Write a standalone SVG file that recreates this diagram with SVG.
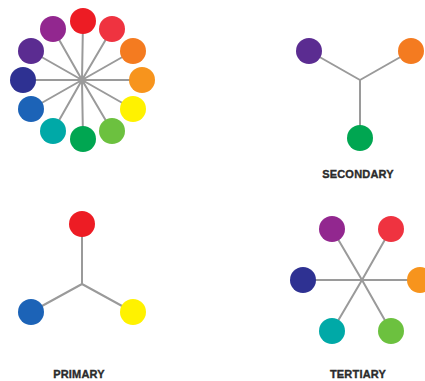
<svg xmlns="http://www.w3.org/2000/svg" width="425" height="381" viewBox="0 0 425 381">
<style>
.ln{stroke:#9a9a9a;stroke-width:2;fill:none;stroke-linecap:round}
.lbl{font-family:"Liberation Sans",Arial,sans-serif;font-weight:bold;font-size:11px;fill:#2b2b2b;stroke:#2b2b2b;stroke-width:0.35;letter-spacing:0.2px;text-anchor:middle}
</style>
<rect width="425" height="381" fill="#fff"/>
<g id="connectors">
  <path class="ln" d="M82,80L83,21M82,80L112,29M82,80L133,51M82,80L142,80M82,80L133,109M82,80L112,131M82,80L83,139M82,80L53,131M82,80L31,109M82,80L23,80M82,80L31,51M82,80L53,29"/>
  <path class="ln" d="M360,80L309,51M360,80L411,51M360,80L360,138"/>
  <path class="ln" d="M82,284L82,224M82,284L31,312M82,284L133,312"/>
  <path class="ln" d="M362,280L332,229M362,280L391,229M362,280L303,280M362,280L420,280M362,280L332,331M362,280L391,331"/>
</g>
<g id="wheel">
  <circle id="w-red" cx="83" cy="21" r="13" fill="#ED1C24"/>
  <circle id="w-redorange" cx="112" cy="29" r="13" fill="#EF3340"/>
  <circle id="w-orange" cx="133" cy="51" r="13" fill="#F47B20"/>
  <circle id="w-yelloworange" cx="142" cy="80" r="13" fill="#F7941D"/>
  <circle id="w-yellow" cx="133" cy="109" r="13" fill="#FFF200"/>
  <circle id="w-yellowgreen" cx="112" cy="131" r="13" fill="#6CC13F"/>
  <circle id="w-green" cx="83" cy="139" r="13" fill="#00A651"/>
  <circle id="w-teal" cx="53" cy="131" r="13" fill="#00A9A7"/>
  <circle id="w-blue" cx="31" cy="109" r="13" fill="#1C63B7"/>
  <circle id="w-darkblue" cx="23" cy="80" r="13" fill="#2E3192"/>
  <circle id="w-purple" cx="31" cy="51" r="13" fill="#5B2C91"/>
  <circle id="w-magenta" cx="53" cy="29" r="13" fill="#92278F"/>
</g>
<g id="secondary">
  <circle id="s-purple" cx="309" cy="51" r="13" fill="#5B2C91"/>
  <circle id="s-orange" cx="411" cy="51" r="13" fill="#F47B20"/>
  <circle id="s-green" cx="360" cy="138" r="13" fill="#00A651"/>
  <text class="lbl" x="358" y="178">SECONDARY</text>
</g>
<g id="primary">
  <circle id="p-red" cx="82" cy="224" r="13" fill="#ED1C24"/>
  <circle id="p-blue" cx="31" cy="312" r="13" fill="#1C63B7"/>
  <circle id="p-yellow" cx="133" cy="312" r="13" fill="#FFF200"/>
  <text class="lbl" x="79" y="378">PRIMARY</text>
</g>
<g id="tertiary">
  <circle id="t-magenta" cx="332" cy="229" r="13" fill="#92278F"/>
  <circle id="t-red" cx="391" cy="229" r="13" fill="#EF3340"/>
  <circle id="t-darkblue" cx="303" cy="280" r="13" fill="#2E3192"/>
  <circle id="t-orange" cx="420" cy="280" r="13" fill="#F7941D"/>
  <circle id="t-teal" cx="332" cy="331" r="13" fill="#00A9A7"/>
  <circle id="t-green" cx="391" cy="331" r="13" fill="#6CC13F"/>
  <text class="lbl" x="358" y="378">TERTIARY</text>
</g>
</svg>
